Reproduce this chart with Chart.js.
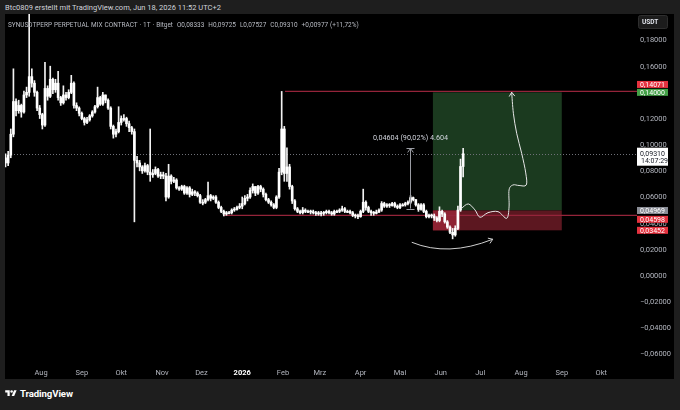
<!DOCTYPE html>
<html lang="de">
<head>
<meta charset="UTF-8" />
<title>SYNUSDTPERP · 1T · Bitget</title>
<script src="https://cdn.jsdelivr.net/npm/chart.js"></script>
<style>
  html, body { margin: 0; padding: 0; width: 680px; height: 410px; overflow: hidden; background: #1e1e1e; font-family: Roboto, "Noto Sans", sans-serif; }
  #credit { position: absolute; left: 5px; top: 3px; font-size: 7.5px; color: #d1d4dc; white-space: nowrap; }
  #pane { position: absolute; left: 5px; top: 14px; width: 669px; height: 365px; background: #000; }
  #legend { position: absolute; left: 8px; top: 20.5px; font-size: 6.45px; color: #b8bbc3; white-space: nowrap; z-index: 2; word-spacing: 0.4px; }
  #footer { position: absolute; left: 5px; top: 388px; display: flex; align-items: center; color: #fff; font-weight: 700; font-size: 9.6px; letter-spacing: -0.1px; }
  #footer svg { margin-right: 3px; }
</style>
</head>
<body>
<div id="credit">Btc0809 erstellt mit TradingView.com, Jun 18, 2026 11:52 UTC+2</div>
<div id="pane">
  <canvas id="chart"></canvas>
</div>
<div id="legend">SYNUSDTPERP PERPETUAL MIX CONTRACT · 1T · Bitget&nbsp; O0,08333&nbsp; H0,09725&nbsp; L0,07527&nbsp; C0,09310&nbsp; +0,00977 (+11,72%)</div>
<div id="footer">
  <svg width="12" height="9" viewBox="0 0 36 28"><path fill="#fff" d="M14 22H7V11H0V4h14v18z"/><circle fill="#fff" cx="20" cy="8" r="4"/><path fill="#fff" d="M28 22h-8l7.5-18h8L28 22z"/></svg>
  TradingView
</div>

<script>
  // Zeitachse: Tage ab 1. Aug 2025
  const monthDays = [0, 31, 61, 92, 122, 153, 184, 212, 243, 273, 304, 334, 365, 396, 426];
  const monthLabels = ["Aug", "Sep", "Okt", "Nov", "Dez", "2026", "Feb", "Mrz", "Apr", "Mai", "Jun", "Jul", "Aug", "Sep", "Okt"];
  const priceTicks = [-0.06, -0.04, -0.02, 0, 0.02, 0.04, 0.06, 0.08, 0.1, 0.12, 0.14, 0.16, 0.18];

  // Kerzen (je 2 Tage), erste Kerze am 5. Jul 2025
  const firstDay = -27;
  const barDays = 2;
  const firstOpen = 0.090;
  const closes = [
    0.086, 0.092, 0.108, 0.133, 0.126, 0.130, 0.125, 0.138, 0.140, 0.152,
    0.147, 0.140, 0.128, 0.123, 0.115, 0.143, 0.137, 0.150, 0.142, 0.147,
    0.136, 0.132, 0.138, 0.136, 0.140, 0.147, 0.130, 0.128, 0.124, 0.120,
    0.117, 0.119, 0.122, 0.125, 0.129, 0.136, 0.131, 0.138, 0.134, 0.128,
    0.114, 0.108, 0.110, 0.117, 0.120, 0.120, 0.116, 0.113, 0.110, 0.088,
    0.086, 0.083, 0.080, 0.084, 0.079, 0.077, 0.078, 0.081, 0.076, 0.077,
    0.076, 0.060, 0.076, 0.072, 0.073, 0.067, 0.066, 0.068, 0.063, 0.067,
    0.062, 0.064, 0.063, 0.061, 0.056, 0.056, 0.058, 0.061, 0.059, 0.060,
    0.056, 0.052, 0.049, 0.047, 0.048, 0.048, 0.050, 0.0505, 0.052, 0.053,
    0.055, 0.059, 0.060, 0.065, 0.068, 0.063, 0.068, 0.066, 0.062, 0.058,
    0.056, 0.054, 0.052, 0.060, 0.079, 0.112, 0.078, 0.083, 0.068, 0.057,
    0.051, 0.049, 0.048, 0.050, 0.049, 0.049, 0.0485, 0.048, 0.048, 0.047,
    0.0475, 0.048, 0.049, 0.048, 0.047, 0.049, 0.049, 0.050, 0.051, 0.049,
    0.049, 0.048, 0.046, 0.0455, 0.045, 0.049, 0.056, 0.052, 0.049, 0.048,
    0.0475, 0.0485, 0.050, 0.055, 0.053, 0.054, 0.0535, 0.055, 0.053, 0.052,
    0.054, 0.054, 0.055, 0.056, 0.0595, 0.058, 0.054, 0.0505, 0.054, 0.049,
    0.045, 0.046, 0.0455, 0.044, 0.042, 0.049, 0.047, 0.041, 0.037, 0.033,
    0.031, 0.036, 0.050, 0.08333, 0.0931
  ];
  const highs = [
    0.093, 0.095, 0.112, 0.158, 0.135, 0.134, 0.131, 0.141, 0.144, 0.21,
    0.158, 0.149, 0.141, 0.130, 0.124, 0.163, 0.145, 0.160, 0.151, 0.150,
    0.156, 0.137, 0.145, 0.140, 0.142, 0.153, 0.148, 0.132, 0.129, 0.125,
    0.121, 0.121, 0.123, 0.126, 0.130, 0.144, 0.137, 0.140, 0.138, 0.135,
    0.129, 0.115, 0.112, 0.129, 0.122, 0.123, 0.121, 0.118, 0.114, 0.112,
    0.091, 0.088, 0.084, 0.086, 0.085, 0.112, 0.081, 0.083, 0.082, 0.079,
    0.079, 0.078, 0.085, 0.077, 0.075, 0.074, 0.068, 0.069, 0.069, 0.068,
    0.068, 0.066, 0.065, 0.064, 0.062, 0.058, 0.059, 0.0715, 0.062, 0.061,
    0.061, 0.057, 0.053, 0.050, 0.049, 0.049, 0.051, 0.052, 0.053, 0.055,
    0.060, 0.061, 0.062, 0.067, 0.070, 0.068, 0.069, 0.069, 0.067, 0.063,
    0.059, 0.057, 0.055, 0.061, 0.082, 0.14071, 0.114, 0.0975, 0.085, 0.069,
    0.058, 0.052, 0.050, 0.052, 0.051, 0.050, 0.050, 0.050, 0.049, 0.049,
    0.049, 0.049, 0.050, 0.050, 0.049, 0.050, 0.050, 0.051, 0.053, 0.052,
    0.050, 0.050, 0.049, 0.047, 0.047, 0.050, 0.066, 0.057, 0.053, 0.050,
    0.049, 0.050, 0.051, 0.0565, 0.056, 0.055, 0.055, 0.056, 0.056, 0.054,
    0.055, 0.055, 0.056, 0.057, 0.061, 0.060, 0.058, 0.055, 0.055, 0.055,
    0.050, 0.047, 0.047, 0.047, 0.045, 0.0525, 0.050, 0.048, 0.042, 0.038,
    0.036, 0.038, 0.053, 0.089, 0.09725
  ];
  const lows = [
    0.083, 0.084, 0.090, 0.106, 0.122, 0.124, 0.121, 0.124, 0.136, 0.137,
    0.144, 0.137, 0.126, 0.120, 0.112, 0.114, 0.134, 0.136, 0.139, 0.140,
    0.134, 0.130, 0.131, 0.134, 0.135, 0.139, 0.128, 0.126, 0.122, 0.119,
    0.115, 0.116, 0.118, 0.121, 0.124, 0.128, 0.130, 0.130, 0.132, 0.127,
    0.112, 0.105, 0.106, 0.109, 0.115, 0.118, 0.114, 0.110, 0.108, 0.041,
    0.083, 0.080, 0.078, 0.079, 0.077, 0.072, 0.075, 0.077, 0.075, 0.074,
    0.074, 0.057, 0.059, 0.070, 0.071, 0.066, 0.065, 0.065, 0.062, 0.062,
    0.060, 0.061, 0.061, 0.060, 0.055, 0.054, 0.055, 0.057, 0.057, 0.058,
    0.055, 0.051, 0.048, 0.0455, 0.046, 0.047, 0.047, 0.049, 0.050, 0.051,
    0.051, 0.054, 0.057, 0.059, 0.063, 0.061, 0.062, 0.064, 0.060, 0.057,
    0.055, 0.053, 0.051, 0.051, 0.059, 0.077, 0.072, 0.072, 0.066, 0.055,
    0.050, 0.048, 0.047, 0.047, 0.048, 0.048, 0.047, 0.047, 0.046, 0.046,
    0.0455, 0.046, 0.047, 0.047, 0.046, 0.046, 0.048, 0.048, 0.049, 0.048,
    0.048, 0.047, 0.045, 0.044, 0.0435, 0.0445, 0.048, 0.050, 0.048, 0.046,
    0.046, 0.047, 0.048, 0.049, 0.052, 0.052, 0.052, 0.053, 0.052, 0.051,
    0.051, 0.053, 0.053, 0.054, 0.055, 0.057, 0.053, 0.049, 0.050, 0.048,
    0.044, 0.044, 0.044, 0.042, 0.041, 0.041, 0.045, 0.040, 0.036, 0.032,
    0.028, 0.030, 0.035, 0.049, 0.07527
  ];

  // Zeichnungen (Tag, Preis)
  const lastPrice = 0.0931;
  const lastTime = "14:07:29";
  const longPos = { from: 298, to: 396, entry: 0.04969, target: 0.14, stop: 0.03452, hitTo: 318.6 };
  const hLines = [
    { price: 0.14071, fromDay: 185.5 },
    { price: 0.04598, fromDay: 138.5 }
  ];
  const measure = { day: 280.6, from: 0.05114, to: 0.09718, text: "0,04604 (90,02%) 4.604" };
  const pathDays = [319.9, 324.9, 330.0, 333.8, 339.9, 347.5, 354.1, 355.9, 355.9, 358.9, 363.5, 369.0, 368.6, 365.5, 361.7, 359.2, 357.9];
  const pathPrices = [0.0514, 0.0547, 0.0501, 0.0445, 0.0480, 0.0488, 0.0437, 0.0524, 0.0654, 0.0692, 0.0688, 0.0692, 0.0784, 0.0934, 0.1087, 0.1240, 0.1401];
  const arcDays = [281.9, 311.0, 343.5];
  const arcPrices = [0.0254, 0.0203, 0.0277];

  const opens = closes.map((c, i) => (i === 0 ? firstOpen : closes[i - 1]));
  const days = closes.map((c, i) => firstDay + i * barDays);
  const wickData = closes.map((c, i) => ({
    x: days[i],
    y: [Math.min(lows[i], opens[i], c), Math.max(highs[i], opens[i], c)]
  }));
  const bodyData = closes.map((c, i) => ({ x: days[i], y: [opens[i], c] }));

  function fmt(v) {
    return (v < 0 ? "\u2212" : "") + Math.abs(v).toFixed(5).replace(".", ",");
  }

  function smoothPath(ctx, pts) {
    ctx.moveTo(pts[0][0], pts[0][1]);
    for (let i = 0; i < pts.length - 1; i++) {
      const p0 = pts[i - 1] || pts[i];
      const p1 = pts[i];
      const p2 = pts[i + 1];
      const p3 = pts[i + 2] || p2;
      ctx.bezierCurveTo(
        p1[0] + (p2[0] - p0[0]) / 6, p1[1] + (p2[1] - p0[1]) / 6,
        p2[0] - (p3[0] - p1[0]) / 6, p2[1] - (p3[1] - p1[1]) / 6,
        p2[0], p2[1]
      );
    }
  }

  function arrowHead(ctx, from, to, len) {
    const a = Math.atan2(to[1] - from[1], to[0] - from[0]);
    ctx.moveTo(to[0] - len * Math.cos(a - 0.6), to[1] - len * Math.sin(a - 0.6));
    ctx.lineTo(to[0], to[1]);
    ctx.lineTo(to[0] - len * Math.cos(a + 0.6), to[1] - len * Math.sin(a + 0.6));
  }

  function tag(ctx, x0, yc, w, h, bg, fg, text) {
    ctx.fillStyle = bg;
    ctx.fillRect(x0, yc - h / 2, w, h);
    ctx.fillStyle = fg;
    ctx.textBaseline = "middle";
    ctx.textAlign = "left";
    ctx.fillText(text, x0 + 3, yc + 0.5);
  }

  const overlay = {
    id: "overlay",
    beforeDatasetsDraw(chart) {
      const { ctx, chartArea: a, scales: { x, y } } = chart;
      ctx.save();
      ctx.beginPath();
      ctx.rect(a.left, a.top, a.right - a.left, a.bottom - a.top);
      ctx.clip();

      const x0 = x.getPixelForValue(longPos.from);
      const x1 = x.getPixelForValue(longPos.to);
      const yT = y.getPixelForValue(longPos.target);
      const yE = y.getPixelForValue(longPos.entry);
      const yS = y.getPixelForValue(longPos.stop);
      ctx.fillStyle = "#1b3a1f";
      ctx.fillRect(x0, yT, x1 - x0, yE - yT);
      ctx.fillStyle = "#5c1720";
      ctx.fillRect(x0, yE, x1 - x0, yS - yE);
      const xh = x.getPixelForValue(longPos.hitTo);
      ctx.fillStyle = "#8e2232";
      ctx.fillRect(x0, yE, xh - x0, yS - yE);

      // Linie letzter Kurs
      const yl = Math.round(y.getPixelForValue(lastPrice)) + 0.5;
      ctx.strokeStyle = "#6f7178";
      ctx.lineWidth = 1;
      ctx.setLineDash([1, 2]);
      ctx.beginPath();
      ctx.moveTo(a.left, yl);
      ctx.lineTo(a.right, yl);
      ctx.stroke();
      ctx.setLineDash([]);

      // horizontale Linien
      ctx.strokeStyle = "#94243a";
      ctx.lineWidth = 1.3;
      hLines.forEach((l) => {
        const yy = y.getPixelForValue(l.price);
        ctx.beginPath();
        ctx.moveTo(x.getPixelForValue(l.fromDay), yy);
        ctx.lineTo(a.right, yy);
        ctx.stroke();
      });
      ctx.restore();
    },
    afterDatasetsDraw(chart) {
      const { ctx, chartArea: a, scales: { x, y } } = chart;
      ctx.save();
      ctx.beginPath();
      ctx.rect(a.left, a.top, a.right - a.left, a.bottom - a.top);
      ctx.clip();

      // Messpfeil
      const mx = Math.round(x.getPixelForValue(measure.day)) + 0.5;
      const my0 = y.getPixelForValue(measure.from);
      const my1 = y.getPixelForValue(measure.to);
      ctx.strokeStyle = "#9a9ca3";
      ctx.lineWidth = 1;
      ctx.beginPath();
      ctx.moveTo(mx, my0);
      ctx.lineTo(mx, my1);
      ctx.moveTo(mx - 4, Math.round(my0) + 0.5);
      ctx.lineTo(mx + 4, Math.round(my0) + 0.5);
      ctx.moveTo(mx - 4, Math.round(my1) + 0.5);
      ctx.lineTo(mx + 4, Math.round(my1) + 0.5);
      arrowHead(ctx, [mx, my1 + 6], [mx, my1], 5);
      ctx.stroke();
      ctx.fillStyle = "#d1d4dc";
      ctx.font = "7.2px Roboto, sans-serif";
      ctx.textAlign = "center";
      ctx.textBaseline = "middle";
      ctx.fillText(measure.text, mx, my1 - 10.5);

      // Prognose-Kurve
      const pts = pathDays.map((d, i) => [x.getPixelForValue(d), y.getPixelForValue(pathPrices[i])]);
      ctx.strokeStyle = "#e6e6e6";
      ctx.lineWidth = 1;
      ctx.beginPath();
      smoothPath(ctx, pts);
      arrowHead(ctx, pts[pts.length - 2], pts[pts.length - 1], 5);
      ctx.stroke();

      // Bogen unten
      const ap = arcDays.map((d, i) => [x.getPixelForValue(d), y.getPixelForValue(arcPrices[i])]);
      const cx = 2 * ap[1][0] - (ap[0][0] + ap[2][0]) / 2;
      const cy = 2 * ap[1][1] - (ap[0][1] + ap[2][1]) / 2;
      ctx.strokeStyle = "#cfcfcf";
      ctx.beginPath();
      ctx.moveTo(ap[0][0], ap[0][1]);
      ctx.quadraticCurveTo(cx, cy, ap[2][0], ap[2][1]);
      arrowHead(ctx, [cx, cy], ap[2], 5);
      ctx.stroke();
      ctx.restore();
    },
    afterDraw(chart) {
      const { ctx, chartArea: a, scales: { x, y } } = chart;
      const x0 = a.right;
      const py = (v) => y.getPixelForValue(v);
      ctx.save();

      // Achsenbeschriftung Preis
      ctx.font = "7.5px Roboto, sans-serif";
      ctx.fillStyle = "#b2b5be";
      ctx.textAlign = "left";
      ctx.textBaseline = "middle";
      priceTicks.forEach((v) => ctx.fillText(fmt(v), x0 + 3, py(v) + 0.5));

      // Achsenbeschriftung Zeit
      ctx.textAlign = "center";
      monthDays.forEach((d, i) => {
        const bold = monthLabels[i] === "2026";
        ctx.font = (bold ? "bold " : "") + "7.5px Roboto, sans-serif";
        ctx.fillStyle = bold ? "#ffffff" : "#b2b5be";
        ctx.fillText(monthLabels[i], x.getPixelForValue(d), a.bottom + 7);
      });

      ctx.font = "7px Roboto, sans-serif";
      tag(ctx, x0, py(0.14071) - 7, 31, 7, "#e5323f", "#fff", fmt(0.14071));
      tag(ctx, x0, py(0.14), 31, 7, "#43a047", "#fff", fmt(0.14));
      tag(ctx, x0, py(longPos.entry), 31, 7, "#8a8d96", "#fff", fmt(longPos.entry));
      tag(ctx, x0, py(0.04598) + 4, 31, 7, "#e5323f", "#fff", fmt(0.04598));
      tag(ctx, x0, py(longPos.stop), 31, 7, "#e5323f", "#fff", fmt(longPos.stop));

      // aktueller Kurs
      const yl = py(lastPrice);
      ctx.fillStyle = "#ffffff";
      ctx.fillRect(x0, yl - 6, 31, 18);
      ctx.fillStyle = "#131722";
      ctx.textBaseline = "middle";
      ctx.fillText(fmt(lastPrice), x0 + 3, yl + 0.5);
      ctx.fillText(lastTime, x0 + 4, yl + 7.5);

      // Währung
      ctx.fillStyle = "#1c1c1c";
      ctx.strokeStyle = "#2e2e2e";
      ctx.beginPath();
      ctx.roundRect(x0 + 1.5, 1.5, 29, 13, 2);
      ctx.fill();
      ctx.stroke();
      ctx.fillStyle = "#e0e3eb";
      ctx.font = "bold 6.5px Roboto, sans-serif";
      ctx.fillText("USDT", x0 + 5, 8.5);
      ctx.restore();
    }
  };

  new Chart(document.getElementById("chart"), {
    type: "bar",
    data: {
      datasets: [
        {
          data: wickData,
          backgroundColor: "#f2f2f2",
          barThickness: 1,
          grouped: false,
          order: 2
        },
        {
          data: bodyData,
          backgroundColor: "#ffffff",
          barThickness: 2,
          minBarLength: 1,
          grouped: false,
          order: 1
        }
      ]
    },
    options: {
      responsive: true,
      maintainAspectRatio: false,
      animation: false,
      devicePixelRatio: 1,
      layout: { padding: 0 },
      plugins: { legend: { display: false }, tooltip: { enabled: false } },
      scales: {
        x: {
          type: "linear",
          offset: false,
          min: -27.4,
          max: 453.2,
          grid: { display: false, drawTicks: false },
          border: { display: false },
          ticks: { display: false },
          afterFit: (s) => { s.height = 13; }
        },
        y: {
          position: "right",
          min: -0.0692,
          max: 0.1999,
          grid: { display: false, drawTicks: false },
          border: { display: false },
          ticks: { display: false },
          afterFit: (s) => { s.width = 37; }
        }
      }
    },
    plugins: [overlay]
  });
</script>
</body>
</html>
